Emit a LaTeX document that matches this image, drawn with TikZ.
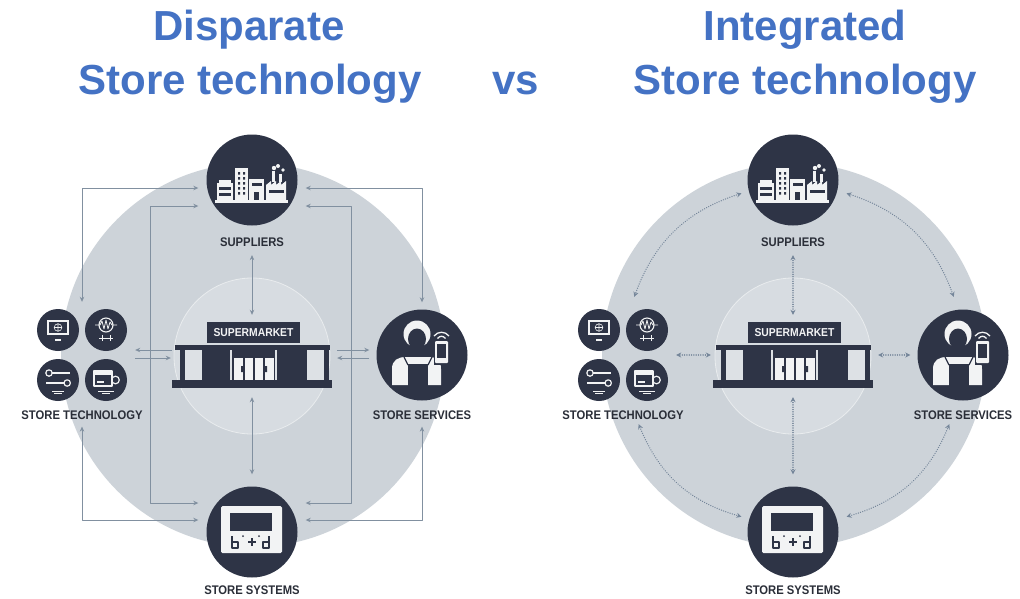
\documentclass[tikz,border=0pt]{standalone}
\usepackage{fontspec}
\setmainfont{Liberation Sans}
\newfontfamily\narrowfont{Liberation Sans}[FakeStretch=0.9]
\usetikzlibrary{arrows.meta,calc}

\definecolor{titleblue}{HTML}{4472C4}
\definecolor{ringgray}{HTML}{CDD3D9}
\definecolor{coregray}{HTML}{D7DCE1}
\definecolor{navy}{HTML}{2E3446}
\definecolor{linkgray}{HTML}{8190A0}
\definecolor{dotgray}{HTML}{75869A}
\definecolor{paper}{HTML}{F2F3F4}
\definecolor{panelgray}{HTML}{DDE1E5}
\definecolor{labelink}{HTML}{2A2E38}

\tikzset{
  title/.style={font=\fontsize{42}{48}\selectfont\bfseries, text=titleblue, inner sep=0pt, anchor=base},
  hub/.style={circle, fill=navy, minimum size=91pt, inner sep=0pt},
  techdot/.style={circle, fill=navy, minimum size=42pt, inner sep=0pt},
  lbl/.style={font=\narrowfont\bfseries\fontsize{12.5}{14}\selectfont, text=labelink, inner sep=2pt},
  link/.style={draw=linkgray, line width=0.8pt, >={Stealth[length=5pt,width=4.5pt]}},
  dotlink/.style={draw=dotgray, line width=1.4pt, dash pattern=on 0.01pt off 2.3pt, line cap=round,
    >={Stealth[length=5pt,width=5pt]}},
  % factory skyline
  factory/.pic={
    \fill[paper] (-37,20) rectangle (36,23);
    \fill[paper] (-35,3) rectangle (-19,20);
    \fill[paper] (-33,0) rectangle (-21,3);
    \fill[navy] (-33,7) rectangle (-21,9.5);
    \fill[navy] (-33,13) rectangle (-21,15.5);
    \fill[paper] (-17,-12) rectangle (-4,20);
    \foreach \yy in {-8,-3,2,7,12}
      \fill[navy] (-14,\yy) rectangle (-12,\yy+2.5) (-9,\yy) rectangle (-7,\yy+2.5);
    \fill[paper] (-3,-1) rectangle (12,20);
    \fill[navy] (2,12) rectangle (7,20);
    \fill[navy] (0,3) rectangle (10,6);
    \fill[paper] (14,20) -- (14,5) -- (19,1) -- (19,5) -- (24,1) -- (24,5) -- (29,1) -- (29,5) -- (34,1) -- (34,20) -- cycle;
    \fill[paper] (20,-9) rectangle (23,2);
    \fill[paper] (27,-6) rectangle (30,2);
    \fill[paper] (22,-12) circle (2.2) (26,-14) circle (2) (31,-10) circle (1.8);
    \fill[navy] (17,10) rectangle (32,13);
  },
  % point-of-sale terminal
  terminal/.pic={
    \fill[paper, rounded corners=1.5pt] (-31,-26) rectangle (30,21);
    \fill[navy] (-22,-19) rectangle (20,-1);
    \begin{scope}[draw=navy, line width=1.6pt]
      \draw (-20,4) -- (-20,16) -- (-14,16) -- (-14,10) -- (-20,10);
      \draw (-4,10) -- (4,10) (0,6) -- (0,14);
      \draw (17,4) -- (17,16) -- (11,16) -- (11,10) -- (17,10);
    \end{scope}
    \fill[navy] (-9,4) circle (1) (7,4) circle (1);
  },
  % shop assistant with handheld device
  assistant/.pic={
    \begin{scope}
      \clip (0,0) circle (44);
      \fill[paper] (-30,30) -- (-30,14) .. controls (-30,5) and (-24,2) .. (-16,2) -- (8,2) .. controls (14,2) and (19,5) .. (19,14) -- (19,30) -- cycle;
      \fill[navy] (-14,9) rectangle (6,40);
      \draw[navy, line width=1.2pt] (-14,10) -- (-18,2) (6,10) -- (10,2);
    \end{scope}
    \fill[paper] (-5,-21) circle (13.5);
    \fill[navy] (-5,-16) ellipse (9 and 10.5);
    \fill[navy] (11.5,-15.5) rectangle (27.5,9.5);
    \fill[paper, rounded corners=1pt] (13,-14) rectangle (26,8);
    \fill[navy] (15,-11) rectangle (24,3);
    \draw[paper, line width=1.3pt] (12,-19) .. controls (16,-24) and (23,-24) .. (27,-19);
    \draw[paper, line width=1.3pt] (15.5,-16.5) .. controls (18,-19.5) and (21,-19.5) .. (23.5,-16.5);
  },
  % four small store technology badges
  screenicon/.pic={
    \fill[paper] (-11,-10) rectangle (11,5);
    \fill[navy] (-9,-8) rectangle (9,3);
    \draw[paper, line width=0.6pt] (0,-2.5) circle (3.8) (-3.8,-2.5) -- (3.8,-2.5) (0,-6.3) -- (0,1.3);
    \fill[paper] (-3,9) rectangle (3,10.5);
  },
  callicon/.pic={
    \draw[paper, line width=1.1pt] (0,-5) circle (7);
    \draw[paper, line width=0.8pt] (-11,-5) -- (-6,-5) -- (-4,-9) -- (-2,-1) -- (0,-10) -- (2,-1) -- (4,-8) -- (6,-5) -- (11,-5);
    \draw[paper, line width=0.8pt] (-4,5) -- (-4,11) (4,5) -- (4,11) (-7,8) -- (7,8);
  },
  keyicon/.pic={
    \draw[paper, line width=1.2pt] (-9,-7) circle (3.2);
    \draw[paper, line width=2pt] (-5.8,-7) -- (12,-7);
    \draw[paper, line width=2pt] (-12,3) -- (6,3);
    \draw[paper, line width=1.2pt] (9.2,3) circle (3.2);
    \draw[paper, line width=0.6pt] (-6,11) -- (6,11) (-4,13.5) -- (4,13.5);
  },
  cardicon/.pic={
    \draw[paper, line width=1.2pt] (-12,-9) rectangle (6,6);
    \fill[paper] (-12,-9) rectangle (6,-5);
    \draw[paper, line width=1.2pt] (9.5,0) circle (3.8);
    \fill[paper] (-9,1) rectangle (-2,3);
    \draw[paper, line width=0.6pt] (-8,11) -- (8,11) (-4,13.5) -- (4,13.5);
  },
  % supermarket front
  supermarket/.pic={
    \fill[navy] (-45,-33) rectangle (48,-12);
    \node[font=\narrowfont\bfseries\fontsize{11.5}{12}\selectfont, text=paper, inner sep=0pt] (-sign) at (1.5,-22.5) {SUPERMARKET};
    \fill[navy] (-77,-10) rectangle (78,-5);
    \fill[navy] (-72,-5) rectangle (-67,25);
    \fill[panelgray] (-67,-5) rectangle (-50,25);
    \fill[navy] (-50,-5) rectangle (55,25);
    \fill[panelgray] (55,-5) rectangle (72,25);
    \fill[navy] (72,-5) rectangle (77,25);
    \draw[panelgray, line width=1.2pt] (-21,-5) -- (-21,25) (24,-5) -- (24,25);
    \fill[paper] (-18,3) rectangle (22,25);
    \draw[navy, line width=1.3pt] (-8,3) -- (-8,25) (2,3) -- (2,25) (12,3) -- (12,25);
    \fill[navy] (-11,11) rectangle (-9,17) (13,11) rectangle (15,17);
    \fill[navy] (-80,25) rectangle (80,33);
  }
}

% one complete store diagram; #1 is the suffix of its node names
\newcommand\storepanel[1]{%
  \coordinate (ring#1) at (253,355);
  \fill[ringgray] (ring#1) circle (192);
  \filldraw[fill=coregray, draw=white!45!coregray, line width=0.8pt] (252,356) circle (78);
  \node[hub] (sup#1) at (252,180) {};
  \pic at (sup#1) {factory};
  \node[lbl] (suplbl#1) at (252,242) {SUPPLIERS};
  \node[hub] (sys#1) at (252,532) {};
  \pic at (sys#1) {terminal};
  \node[lbl] (syslbl#1) at (252,590) {STORE SYSTEMS};
  \node[hub] (srv#1) at (422,355) {};
  \pic at (srv#1) {assistant};
  \node[lbl] (srvlbl#1) at (422,415) {STORE SERVICES};
  \node[minimum width=106pt, minimum height=92pt, inner sep=0pt] (tech#1) at (82,355) {};
  \node[techdot] (tA#1) at (58,330) {};
  \node[techdot] (tB#1) at (106,330) {};
  \node[techdot] (tC#1) at (58,380) {};
  \node[techdot] (tD#1) at (106,380) {};
  \pic at (tA#1) {screenicon};
  \pic at (tB#1) {callicon};
  \pic at (tC#1) {keyicon};
  \pic at (tD#1) {cardicon};
  \node[lbl] (techlbl#1) at (82,415) {STORE TECHNOLOGY};
  \node[minimum width=160pt, minimum height=66pt, inner sep=0pt] (sm#1) at (252,355) {};
  \pic (shop#1) at (sm#1) {supermarket};
}

\begin{document}
\begin{tikzpicture}[x=1pt, y=-1pt, line join=round]
  \useasboundingbox (0,0) rectangle (1020,598);
  \fill[white] (0,0) rectangle (1020,598);

  % headings
  \node[title] (headL1) at (249,40) {Disparate};
  \node[title] (headL2) at (250,94) {Store technology};
  \node[title] (vs) at (516,94) {vs};
  \node[title] (headR1) at (805,40) {Integrated};
  \node[title] (headR2) at (805,94) {Store technology};

  % left: point-to-point links
  \storepanel{L}
  \begin{scope}[link]
    \draw[<->] ([yshift=-6.5pt]suplblL.south) -- ([yshift=7pt]smL.north);
    \draw[<->] ([yshift=-9pt]smL.south) -- ([yshift=12pt]sysL.north);
    \draw[->] ([yshift=5pt]smL.west) -- ([yshift=5pt]techL.east);
    \draw[->] ([yshift=-3pt]techL.east) -- ([xshift=-1pt,yshift=-3pt]smL.west);
    \draw[->] ([xshift=5pt,yshift=5pt]smL.east) -- ([xshift=-7pt,yshift=5pt]srvL.west);
    \draw[->] ([xshift=-7pt,yshift=-3pt]srvL.west) -- ([xshift=5pt,yshift=-3pt]smL.east);
    \draw[<->] ([xshift=-8pt,yshift=-8pt]supL.west) -| ([yshift=7pt]techL.north);
    \draw[<->] ([xshift=8pt,yshift=-8pt]supL.east) -| ([yshift=7pt]srvL.north);
    \draw[<->] ([xshift=-8pt,yshift=-26pt]supL.west) -- ++(-48,0) |- ([xshift=-8pt,yshift=29pt]sysL.west);
    \draw[<->] ([xshift=8pt,yshift=-26pt]supL.east) -- ++(46,0) |- ([xshift=8pt,yshift=29pt]sysL.east);
    \draw[<->] ([yshift=-5pt]techlblL.south) |- ([xshift=-8pt,yshift=12pt]sysL.west);
    \draw[<->] ([yshift=-5pt]srvlblL.south) |- ([xshift=8pt,yshift=12pt]sysL.east);
  \end{scope}

  % right: one shared platform
  \begin{scope}[xshift=541pt]
    \storepanel{R}
  \end{scope}
  \coordinate (a1) at ($(ringR)+(-108:170)$);
  \coordinate (a2) at ($(ringR)+(-160:170)$);
  \coordinate (a3) at ($(ringR)+(-72:170)$);
  \coordinate (a4) at ($(ringR)+(-20:170)$);
  \coordinate (a5) at ($(ringR)+(156:170)$);
  \coordinate (a6) at ($(ringR)+(108:170)$);
  \coordinate (a7) at ($(ringR)+(24:170)$);
  \coordinate (a8) at ($(ringR)+(72:170)$);
  \begin{scope}[dotlink]
    \draw[<->] ([yshift=-6.5pt]suplblR.south) -- ([yshift=7pt]smR.north);
    \draw[<->] ([yshift=-9pt]smR.south) -- ([yshift=12pt]sysR.north);
    \draw[<->] ([xshift=-2pt]smR.west) -- (techR.east);
    \draw[<->] ([xshift=5pt]smR.east) -- ([xshift=-7pt]srvR.west);
    \draw[<->] (a1) to[bend right=26] (a2);
    \draw[<->] (a4) to[bend right=26] (a3);
    \draw[<->] (a5) to[bend right=26] (a6);
    \draw[<->] (a8) to[bend right=26] (a7);
  \end{scope}
\end{tikzpicture}
\end{document}
